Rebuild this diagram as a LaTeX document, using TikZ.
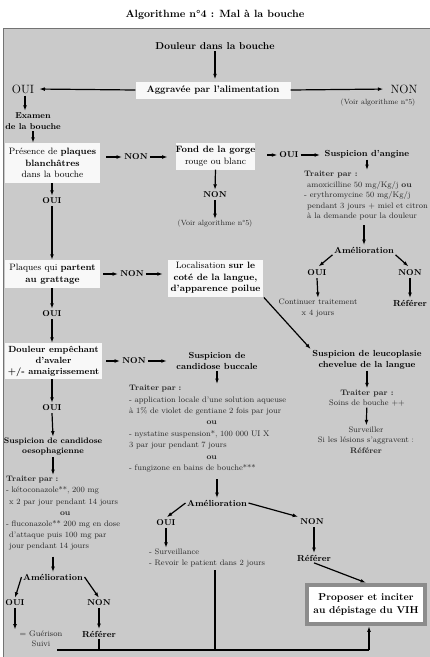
\documentclass[tikz,border=0pt]{standalone}
\usepackage{fontspec}
\usetikzlibrary{arrows.meta,calc}
\definecolor{bgc}{RGB}{202,202,202}
\definecolor{boxc}{RGB}{248,248,248}
\definecolor{framec}{RGB}{140,140,140}
\definecolor{ltc}{RGB}{40,40,40}
\begin{document}
\begin{tikzpicture}[x=1pt,y=-1pt,
  ttl/.style={font=\bfseries\fontsize{10.5}{12}\selectfont, inner sep=0pt},
  bd/.style={font=\bfseries\fontsize{8.8}{10.5}\selectfont, inner sep=1.5pt, align=center},
  lab/.style={font=\bfseries\fontsize{8.5}{10}\selectfont, inner sep=2pt},
  lt/.style={font=\fontsize{8}{10.5}\selectfont, text=ltc, inner sep=1pt, align=center},
  big/.style={font=\fontsize{12}{14}\selectfont, inner sep=2pt},
  wbox/.style={fill=boxc, inner sep=0pt, align=center, font=\fontsize{9.2}{11.5}\selectfont},
  final/.style={fill=white, draw=framec, line width=4.5pt, inner sep=0pt, align=center,
    minimum width=118pt, minimum height=39pt, font=\bfseries\fontsize{10}{12.5}\selectfont},
  arr/.style={-{Latex[length=5.5pt,width=3.8pt]}, line width=1.2pt},
  ln/.style={line width=1.2pt}]
\useasboundingbox (0,0) rectangle (430,657);
\fill[bgc] (3,28) rectangle (430,657);
\draw[black!55, line width=0.6pt] (3,657) -- (3,28) -- (430,28);

\node[ttl] (title) at (215,15) {Algorithme n°4 : Mal à la bouche};

\node[bd, font=\bfseries\fontsize{10}{12}\selectfont] (douleur) at (215,46) {Douleur dans la bouche};
\node[wbox, font=\bfseries\fontsize{9.5}{11.5}\selectfont, minimum width=155pt, minimum height=17pt] (aggr) at (213,90) {Aggravée par l'alimentation};
\node[big] (oui1) at (23,89) {OUI};
\node[big] (non1) at (404,89) {NON};
\node[lt, font=\fontsize{7.5}{9}\selectfont] (voir1) at (378,103) {(Voir algorithme n°5)};
\draw[arr, shorten >=2pt] (douleur.south) -- (douleur.south |- aggr.north);
\draw[arr, shorten >=3pt] (aggr.west) -- (oui1.east);
\draw[arr, shorten >=5pt] (aggr.east) -- (non1.west);

\node[bd, font=\bfseries\fontsize{8.5}{11}\selectfont] (exam) at (33,121) {Examen\\de la bouche};
\draw[arr] ([xshift=2pt]oui1.south) -- ([xshift=2pt]oui1.south |- exam.north);

\node[wbox, minimum width=95pt, minimum height=40pt] (pres) at (52.5,163) {Présence de \textbf{plaques}\\\textbf{blanchâtres}\\dans la bouche};
\draw[arr] (exam.south) -- (exam.south |- pres.north);

\node[lab] (non2) at (136,157) {NON};
\draw[arr, shorten <=6pt] (pres.east |- non2) -- (non2.west);
\node[wbox, minimum width=79pt, minimum height=27pt] (fond) at (215.5,156) {\textbf{Fond de la gorge}\\rouge ou blanc};
\draw[arr, shorten >=8pt] (non2.east) -- (non2.east -| fond.west);

\node[lab] (non3) at (215,195) {NON};
\draw[arr] (fond.south) -- (non3.north);
\node[lt, font=\fontsize{7.5}{9}\selectfont] (voir2) at (215,224) {(Voir algorithme n°5)};
\draw[arr] (non3.south) -- (voir2.north);

\node[lab] (oui2) at (289,155) {OUI};
\draw[arr, shorten <=12pt] (fond.east |- oui2) -- (oui2.west);
\node[bd] (angine) at (367,154) {Suspicion d'angine};
\draw[arr, shorten >=3pt] (oui2.east) -- (oui2.east -| angine.west);

\node[lt, anchor=north west, align=left] (treat1) at (303,170) {\textbf{Traiter par :}\\
\hspace*{3pt}amoxicilline 50 mg/Kg/j \textbf{ou}\\
- erythromycine 50 mg/Kg/j\\
\hspace*{3pt}pendant 3 jours + miel et citron\\
\hspace*{3pt}à la demande pour la douleur};
\draw[arr] (angine.south) -- (angine.south |- treat1.north);

\node[bd] (amel1) at (364,250) {Amélioration};
\draw[arr, shorten <=4pt] (amel1.north |- treat1.south) -- (amel1.north);
\node[lab] (oui3) at (317,273) {OUI};
\node[lab] (non4) at (410,273) {NON};
\draw[arr, shorten >=2pt] (amel1.south west) -- (oui3.north);
\draw[arr, shorten >=2pt] (amel1.south east) -- (non4.north);
\node[lt] (cont) at (318,308) {Continuer traitement\\x 4 jours};
\draw[arr] (oui3.south) -- (cont.north);
\node[bd] (ref1) at (410,303) {Référer};
\draw[arr] (non4) -- (ref1);

\node[wbox, minimum width=95pt, minimum height=37pt] (loc) at (215.5,278) {Localisation \textbf{sur le}\\\textbf{coté de la langue,}\\\textbf{d'apparence poilue}};
\node[bd] (leuco) at (367,360) {Suspicion de leucoplasie\\chevelue de la langue};
\draw[arr, shorten <=1pt] (loc.south east) -- (leuco.north west);
\node[lt] (treat2) at (367,398) {\textbf{Traiter par :}\\Soins de bouche ++};
\draw[arr] (leuco) -- (treat2);
\node[lt] (surv) at (366,440) {Surveiller\\Si les lésions s'aggravent :\\\textbf{Référer}};
\draw[arr] (treat2) -- (surv);

\node[lab] (oui4) at (52,201) {OUI};
\draw[arr] (pres.south -| oui4) -- (oui4.north);
\node[wbox, minimum width=95pt, minimum height=28pt] (plaq) at (52.5,274) {Plaques qui \textbf{partent}\\\textbf{au grattage}};
\draw[arr] (oui4.south) -- (oui4.south |- plaq.north);
\node[lab] (non5) at (132,274) {NON};
\draw[arr, shorten <=3pt] (plaq.east |- non5) -- (non5.west);
\draw[arr, shorten >=5pt] (non5.east) -- (non5.east -| loc.west);

\node[lab] (oui5) at (52,314) {OUI};
\draw[arr] (plaq.south -| oui5) -- (oui5.north);
\node[wbox, font=\bfseries\fontsize{8.9}{11}\selectfont, minimum width=97pt, minimum height=36pt] (doul) at (53.5,361) {Douleur empêchant\\d'avaler\\+/- amaigrissement};
\draw[arr] (oui5.south) -- (oui5.south |- doul.north);
\node[lab] (non6) at (134,361) {NON};
\draw[arr, shorten <=4pt] (doul.east |- non6) -- (non6.west);
\node[bd] (cand) at (217,361) {Suspicion de\\candidose buccale};
\draw[arr, shorten >=8pt] (non6.east) -- (non6.east -| cand.west);

\node[lt, anchor=north west, text width=165pt, align=left, font=\fontsize{8}{11.4}\selectfont] (treat3) at (128,384) {\textbf{Traiter par :}\\
- application locale d'une solution aqueuse\\
à 1\% de violet de gentiane 2 fois par jour\\
\hfill\textbf{ou}\hfill\null\\
- nystatine suspension*, 100 000 UI X\\
3 par jour pendant 7 jours\\
\hfill\textbf{ou}\hfill\null\\
- fungizone en bains de bouche***};
\draw[arr] (cand.south) -- (cand.south |- treat3.north);

\node[bd] (amel2) at (217,503) {Amélioration};
\draw[arr, shorten <=6pt] (amel2.north |- treat3.south) -- (amel2.north);
\node[lab] (oui6) at (166,523) {OUI};
\node[lab] (non7) at (312,522) {NON};
\draw[arr, shorten >=1pt] (amel2.west) -- (oui6.north);
\draw[arr] (amel2.east) -- (non7.north west);
\node[lt, align=left] (surv2) at (207,558) {- Surveillance\\- Revoir le patient dans 2 jours};
\draw[arr] (oui6.south) -- (oui6.south |- surv2.north);
\node[bd] (ref2) at (314,558) {Référer};
\draw[arr] (non7.south -| ref2) -- (ref2.north);
\node[final] (final) at (366,604.5) {Proposer et inciter\\au dépistage du VIH};
\draw[arr] (ref2.south) -- (final.north);

\node[lab] (oui7) at (52,408) {OUI};
\draw[arr] (doul.south -| oui7) -- (oui7.north);
\node[bd, font=\bfseries\fontsize{8}{10}\selectfont] (cando) at (53,447) {Suspicion de candidose\\oesophagienne};
\draw[arr] (oui7.south) -- (cando.north);
\node[lt, anchor=north west, text width=118pt, align=left, font=\fontsize{8}{11.2}\selectfont] (treat4) at (5,475) {\textbf{Traiter par :}\\
- kétoconazole**, 200 mg\\
\hspace*{3pt}x 2 par jour pendant 14 jours\\
\hfill\textbf{ou}\hfill\null\\
- fluconazole** 200 mg en dose\\
\hspace*{3pt}d'attaque puis 100 mg par\\
\hspace*{3pt}jour pendant 14 jours};
\draw[arr] (cando.south) -- (cando.south |- treat4.north);

\node[bd] (amel3) at (53,577) {Amélioration};
\draw[arr, shorten <=5pt] (amel3.north |- treat4.south) -- (amel3.north);
\node[lab] (oui8) at (15,603) {OUI};
\node[lab] (non8) at (99,603) {NON};
\draw[arr] (amel3.west) -- (oui8.north);
\draw[arr] (amel3.east) -- (non8.north);
\node[lt] (guer) at (41,639) {= Guérison\\Suivi};
\draw[arr] (oui8.south) -- (oui8.south |- guer.north);
\node[bd] (ref3) at (99,634) {Référer};
\draw[arr] (non8) -- (ref3);

\coordinate (bl) at (57,650);
\coordinate (br) at (369,650);
\coordinate (sv) at (215,570);
\draw[ln] (ref3.south) -- (ref3.south |- bl);
\draw[ln] (sv) -- (sv |- bl);
\draw[ln] (bl) -- (br);
\draw[arr] (br) -- (br |- final.south);
\end{tikzpicture}
\end{document}
